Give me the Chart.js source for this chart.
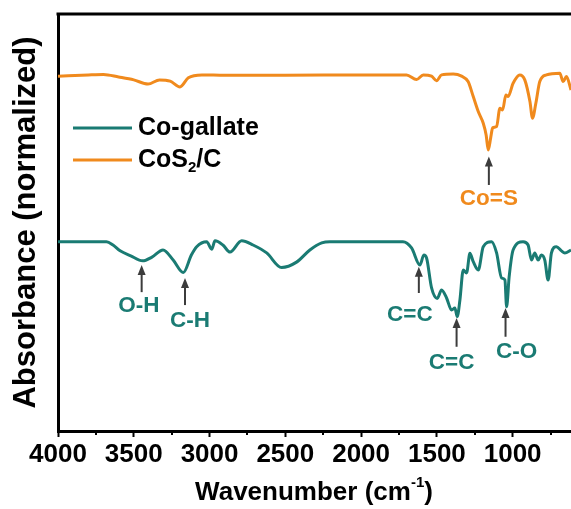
<!DOCTYPE html>
<html>
<head>
<meta charset="utf-8">
<script src="https://cdn.jsdelivr.net/npm/chart.js@4"></script>
<style>
  html, body { margin: 0; padding: 0; background: #ffffff; }
  #wrap { width: 571px; height: 509px; }
</style>
</head>
<body>
<div id="wrap"><canvas id="ftir" width="571" height="509"></canvas></div>
<script>
// FTIR spectra (wavenumber in cm^-1, normalized absorbance with vertical offset)
const gallateWn = [4000, 3800, 3680, 3637, 3590, 3520, 3441, 3380, 3307, 3240, 3173, 3120, 3085, 3019, 2986, 2964, 2912, 2865, 2788, 2713, 2623, 2525, 2426, 2338, 2260, 2206, 1900, 1724, 1667, 1612, 1586, 1568, 1535, 1498, 1469, 1436, 1403, 1381, 1366, 1348, 1326, 1304, 1282, 1260, 1227, 1194, 1139, 1106, 1073, 1051, 1040, 1023, 997, 931, 898, 876, 854, 832, 810, 788, 766, 744, 711, 678, 656, 615];
const gallateAbs = [0.454, 0.454, 0.454, 0.446, 0.432, 0.420, 0.408, 0.417, 0.434, 0.410, 0.380, 0.422, 0.442, 0.454, 0.436, 0.456, 0.446, 0.429, 0.456, 0.446, 0.427, 0.392, 0.405, 0.434, 0.451, 0.454, 0.454, 0.454, 0.439, 0.398, 0.422, 0.415, 0.343, 0.318, 0.338, 0.319, 0.290, 0.295, 0.274, 0.314, 0.386, 0.379, 0.426, 0.406, 0.386, 0.442, 0.454, 0.427, 0.367, 0.362, 0.298, 0.370, 0.434, 0.454, 0.446, 0.410, 0.427, 0.410, 0.422, 0.410, 0.362, 0.427, 0.442, 0.432, 0.427, 0.434];

const cos2Wn = [4000, 3800, 3700, 3600, 3500, 3406, 3330, 3260, 3195, 3140, 3050, 2900, 2500, 2000, 1700, 1634, 1590, 1535, 1502, 1469, 1392, 1337, 1294, 1260, 1227, 1194, 1175, 1161, 1145, 1132, 1106, 1084, 1066, 1045, 1030, 997, 953, 920, 886, 869, 847, 821, 777, 689, 667, 645, 615];
const cos2Abs = [0.851, 0.854, 0.855, 0.849, 0.842, 0.832, 0.842, 0.839, 0.825, 0.847, 0.854, 0.853, 0.853, 0.854, 0.854, 0.843, 0.854, 0.851, 0.840, 0.854, 0.856, 0.851, 0.838, 0.802, 0.766, 0.738, 0.710, 0.674, 0.703, 0.727, 0.730, 0.774, 0.770, 0.806, 0.802, 0.834, 0.854, 0.842, 0.790, 0.750, 0.786, 0.838, 0.854, 0.858, 0.838, 0.850, 0.818];

const majorTicks = [4000, 3500, 3000, 2500, 2000, 1500, 1000];
const minorTicks = [3750, 3250, 2750, 2250, 1750, 1250, 750];

// band assignments: arrow at wavenumber wn from tail (y) up to tip (y), label centred at (lx, ly)
const bandLabels = [
  { text: 'O-H',  wn: 3448, tip: 0.398, tail: 0.333, lx: 3466, ly: 0.300, series: 0 },
  { text: 'C-H',  wn: 3162, tip: 0.367, tail: 0.302, lx: 3129, ly: 0.265, series: 0 },
  { text: 'C=C',  wn: 1619, tip: 0.394, tail: 0.331, lx: 1678, ly: 0.278, series: 0 },
  { text: 'C=C',  wn: 1370, tip: 0.271, tail: 0.202, lx: 1403, ly: 0.164, series: 0 },
  { text: 'C-O',  wn: 1047, tip: 0.295, tail: 0.226, lx: 974,  ly: 0.190, series: 0 },
  { text: 'Co=S', wn: 1157, tip: 0.658, tail: 0.590, lx: 1157, ly: 0.556, series: 1 }
];

const TEAL = '#1a7b73';
const ORANGE = '#f08a1d';
const FONT = "'Liberation Sans', Arial, sans-serif";

const toPoints = (xs, ys) => xs.map((x, i) => ({ x: x, y: ys[i] }));

const overlay = {
  id: 'overlay',
  afterDraw(chart) {
    const ctx = chart.ctx;
    const area = chart.chartArea;
    const xs = chart.scales.x;
    const ys = chart.scales.y;
    const colors = [TEAL, ORANGE];
    ctx.save();

    // top frame line
    ctx.strokeStyle = '#000';
    ctx.lineWidth = 3;
    ctx.beginPath();
    ctx.moveTo(area.left - 1.5, area.top);
    ctx.lineTo(area.right, area.top);
    ctx.stroke();

    // minor ticks
    ctx.lineWidth = 2;
    minorTicks.forEach(v => {
      const px = Math.round(xs.getPixelForValue(v));
      if (px < area.left || px > area.right) return;
      ctx.beginPath();
      ctx.moveTo(px, area.bottom);
      ctx.lineTo(px, area.bottom + 4);
      ctx.stroke();
    });

    // band arrows and labels
    bandLabels.forEach(b => {
      const x = xs.getPixelForValue(b.wn);
      const yTip = ys.getPixelForValue(b.tip);
      const yTail = ys.getPixelForValue(b.tail);
      ctx.strokeStyle = '#3c3c3c';
      ctx.fillStyle = '#3c3c3c';
      ctx.lineWidth = 2;
      ctx.beginPath();
      ctx.moveTo(x, yTail);
      ctx.lineTo(x, yTip + 7);
      ctx.stroke();
      ctx.beginPath();
      ctx.moveTo(x, yTip);
      ctx.lineTo(x - 4, yTip + 10);
      ctx.lineTo(x + 4, yTip + 10);
      ctx.closePath();
      ctx.fill();

      ctx.fillStyle = colors[b.series];
      ctx.font = 'bold 22.5px ' + FONT;
      ctx.textAlign = 'center';
      ctx.textBaseline = 'middle';
      ctx.fillText(b.text, xs.getPixelForValue(b.lx), ys.getPixelForValue(b.ly));
    });

    // legend
    const legendRows = [
      { color: TEAL, parts: [['Co-gallate', 0]] },
      { color: ORANGE, parts: [['CoS', 0], ['2', 1], ['/C', 0]] }
    ];
    legendRows.forEach((row, i) => {
      const y = area.top + 114 + i * 32;
      ctx.strokeStyle = row.color;
      ctx.lineWidth = 3;
      ctx.beginPath();
      ctx.moveTo(area.left + 15, y);
      ctx.lineTo(area.left + 74, y);
      ctx.stroke();
      let tx = area.left + 80;
      ctx.fillStyle = '#000';
      ctx.textAlign = 'left';
      ctx.textBaseline = 'middle';
      row.parts.forEach(([t, sub]) => {
        ctx.font = sub ? 'bold 15px ' + FONT : 'bold 25px ' + FONT;
        ctx.fillText(t, tx, sub ? y + 8 : y);
        tx += ctx.measureText(t).width;
      });
    });

    // x axis title with superscript
    const titleY = 493;
    const parts = [['Wavenumber (cm', 0], ['-1', 1], [')', 0]];
    let total = 0;
    parts.forEach(([t, sup]) => {
      ctx.font = sup ? 'bold 15px ' + FONT : 'bold 26px ' + FONT;
      total += ctx.measureText(t).width;
    });
    let tx = 314 - total / 2;
    ctx.fillStyle = '#000';
    ctx.textAlign = 'left';
    ctx.textBaseline = 'middle';
    parts.forEach(([t, sup]) => {
      ctx.font = sup ? 'bold 15px ' + FONT : 'bold 26px ' + FONT;
      ctx.fillText(t, tx, sup ? titleY - 10 : titleY);
      tx += ctx.measureText(t).width;
    });
    ctx.restore();
  }
};

new Chart(document.getElementById('ftir'), {
  type: 'line',
  data: {
    datasets: [
      {
        label: 'Co-gallate',
        data: toPoints(gallateWn, gallateAbs),
        borderColor: TEAL,
        borderWidth: 3,
        pointRadius: 0,
        cubicInterpolationMode: 'monotone',
        fill: false
      },
      {
        label: 'CoS2/C',
        data: toPoints(cos2Wn, cos2Abs),
        borderColor: ORANGE,
        borderWidth: 3,
        pointRadius: 0,
        cubicInterpolationMode: 'monotone',
        fill: false
      }
    ]
  },
  options: {
    responsive: false,
    animation: false,
    devicePixelRatio: 1,
    layout: { padding: { top: 14, right: 0, left: 0, bottom: 0 } },
    plugins: {
      legend: { display: false },
      tooltip: { enabled: false }
    },
    scales: {
      x: {
        type: 'linear',
        reverse: true,
        min: 615,
        max: 4000,
        afterBuildTicks: scale => { scale.ticks = majorTicks.map(v => ({ value: v })); },
        afterFit: scale => { scale.height = 78; },
        border: { display: true, color: '#000', width: 3 },
        grid: { drawOnChartArea: false, drawTicks: true, tickLength: 6, tickWidth: 2, tickColor: '#000' },
        ticks: {
          color: '#000',
          font: { family: FONT, size: 26, weight: 'bold' },
          padding: 2,
          maxRotation: 0,
          autoSkip: false,
          callback: v => String(v)
        }
      },
      y: {
        type: 'linear',
        min: 0,
        max: 1,
        afterFit: scale => { scale.width = 58; },
        border: { display: true, color: '#000', width: 3 },
        grid: { drawOnChartArea: false, drawTicks: false },
        ticks: { display: false },
        title: {
          display: true,
          text: 'Absorbance (normalized)',
          color: '#000',
          font: { family: FONT, size: 31, weight: 'bold' },
          padding: { top: 8, bottom: 0 }
        }
      }
    }
  },
  plugins: [overlay]
});
</script>
</body>
</html>
